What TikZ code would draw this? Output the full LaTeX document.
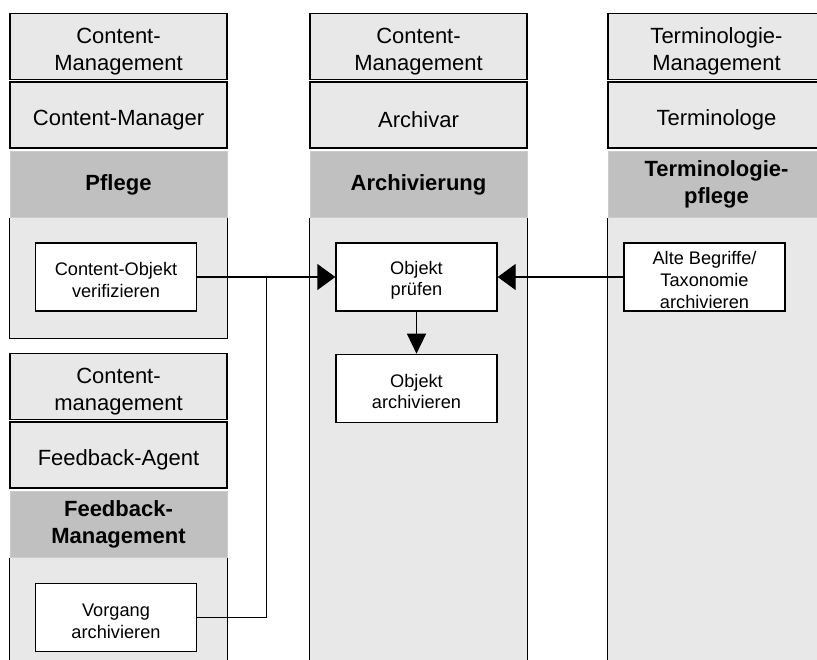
\documentclass[tikz,border=0pt]{standalone}
\usepackage{fontspec}
\setmainfont{Liberation Sans}
\usepackage{xcolor}
\usetikzlibrary{arrows.meta,positioning,calc}
\definecolor{lanegray}{HTML}{E8E8E8}
\definecolor{bandgray}{HTML}{C0C0C0}
\definecolor{bandline}{HTML}{CCCCCC}
% struts to push the text a little down in its box
\newcommand\headstrut{\rule{0pt}{25pt}}
\newcommand\taskstrut{\rule{0pt}{19.5pt}}
\tikzset{
  lanehead/.style={
    rectangle,draw=black,fill=lanegray,
    line width=1.4pt,minimum width=217pt,minimum height=66pt,
    inner sep=0pt,align=center,font=\fontsize{22}{27}\selectfont
  },
  laneband/.style={
    rectangle,draw=bandline,fill=bandgray,
    line width=.6pt,minimum width=217pt,minimum height=66pt,
    inner sep=0pt,align=center,font=\fontsize{22}{27}\selectfont\bfseries
  },
  lanebody/.style={draw=black,fill=lanegray,line width=1.4pt},
  task/.style={
    rectangle,draw=black,fill=white,
    line width=1.4pt,minimum width=161pt,minimum height=68pt,
    inner sep=0pt,align=center,font=\fontsize{18.2}{21.7}\selectfont
  },
  link/.style={draw=black,line width=1.4pt},
  arrow/.style={-{Triangle[length=18pt,width=26pt]},draw=black,line width=1.4pt},
  downarrow/.style={-{Triangle[length=20pt,width=19pt]},draw=black,line width=1.4pt}
}
\begin{document}
\begin{tikzpicture}[x=1pt,y=-1pt]
\useasboundingbox (0,0) rectangle (817,659);

% Content-Management / Pflege
\node[lanehead] (cmhead) at (118.5,46.5) {\headstrut Content-\\Management};
\node[lanehead,below=1pt of cmhead] (cmrole) {\headstrut Content-Manager};
\node[laneband,below=2.5pt of cmrole] (pflege) {Pflege};
\filldraw[lanebody] (pflege.south west) -- ++(0,121) -| (pflege.south east);

% Content-Management / Archivierung
\node[lanehead] (archead) at (418.5,46.5) {\headstrut Content-\\Management};
\node[lanehead,below=1pt of archead] (arcrole) {\headstrut Archivar};
\node[laneband,below=2.5pt of arcrole] (archivierung) {Archivierung};
\filldraw[lanebody] (archivierung.south west) -- ++(0,460) -| (archivierung.south east);

% Terminologie-Management
\node[lanehead] (termhead) at (716.5,46.5) {\headstrut Terminologie-\\Management};
\node[lanehead,below=1pt of termhead] (termrole) {\headstrut Terminologe};
\node[laneband,below=2.5pt of termrole] (termpflege) {Terminologie-\\pflege};
\filldraw[lanebody] (termpflege.south west) -- ++(0,460) -| (termpflege.south east);

% Content-management / Feedback-Management
\node[lanehead] (fbhead) at (118.5,386.5) {\headstrut Content-\\management};
\node[lanehead,below=1pt of fbhead] (fbrole) {\headstrut Feedback-Agent};
\node[laneband,below=2.5pt of fbrole] (feedback) {Feedback-\\Management};
\filldraw[lanebody] (feedback.south west) -- ++(0,120) -| (feedback.south east);

% tasks
\node[task] (verif) at (116,277) {\taskstrut Content-Objekt\\verifizieren};
\node[task] (pruefen) at (416.5,277) {\taskstrut Objekt\\prüfen};
\node[task,below=42pt of pruefen] (archiv) {\taskstrut Objekt\\archivieren};
\node[task] (alte) at (704.5,277) {\taskstrut Alte Begriffe/\\Taxonomie\\archivieren};
\node[task] (vorgang) at (116,617.5) {\taskstrut Vorgang\\archivieren};

\coordinate (jn) at ($(verif.east)!.5!(pruefen.west)$);

\draw[arrow] (verif) -- (pruefen);
\draw[link] (vorgang.east) -| (jn);
\draw[arrow] (alte) -- (pruefen);
\draw[downarrow] (pruefen) -- (archiv);
\end{tikzpicture}
\end{document}
